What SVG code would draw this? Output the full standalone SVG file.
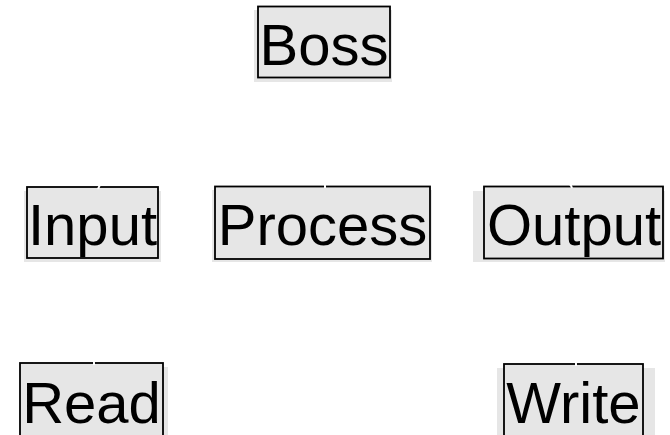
<svg xmlns="http://www.w3.org/2000/svg" width="670" height="435" viewBox="0 0 670 435">
<style>
.shadow{fill:#e6e6e6;stroke:none}
.box{fill:#e6e6e6;stroke:#000;stroke-width:1.8}
.lbl{font-family:"Liberation Sans",Arial,sans-serif;font-size:58px;fill:#000;text-anchor:middle}
.conn{fill:none;stroke:#fff;stroke-width:2}
</style>
<rect width="670" height="435" fill="#fff"/>
<g id="boss">
<rect class="shadow" x="254" y="10" width="138" height="72"/>
<rect class="box" x="258" y="6.5" width="132" height="71"/>
<text class="lbl" x="324" y="65">Boss</text>
</g>
<g id="input">
<rect class="shadow" x="24" y="191" width="137" height="71"/>
<rect class="box" x="27" y="187" width="131" height="71"/>
<text class="lbl" x="92.5" y="245">Input</text>
</g>
<g id="process">
<rect class="shadow" x="212" y="190" width="220" height="72"/>
<rect class="box" x="215" y="186.5" width="215" height="72.5"/>
<text class="lbl" x="322.5" y="245">Process</text>
</g>
<g id="output">
<rect class="shadow" x="473" y="191" width="192" height="71"/>
<rect class="box" x="484" y="186.5" width="179" height="72"/>
<text class="lbl" x="574" y="245">Output</text>
</g>
<g id="read">
<rect class="shadow" x="20" y="367" width="148" height="72"/>
<rect class="box" x="20" y="363" width="143" height="80"/>
<text class="lbl" x="91.5" y="423">Read</text>
</g>
<g id="write">
<rect class="shadow" x="497" y="368" width="158" height="72"/>
<rect class="box" x="504" y="364" width="139" height="80"/>
<text class="lbl" x="573.5" y="423">Write</text>
</g>
<g id="connectors">
<path class="conn" d="M324,84 C300,140 110,150 98,189"/>
<path class="conn" d="M324,84 L325,188"/>
<path class="conn" d="M324,84 C340,140 560,150 572,188"/>
<path class="conn" d="M93,264 L94,365"/>
<path class="conn" d="M575,264 L576,366"/>
</g>
</svg>
